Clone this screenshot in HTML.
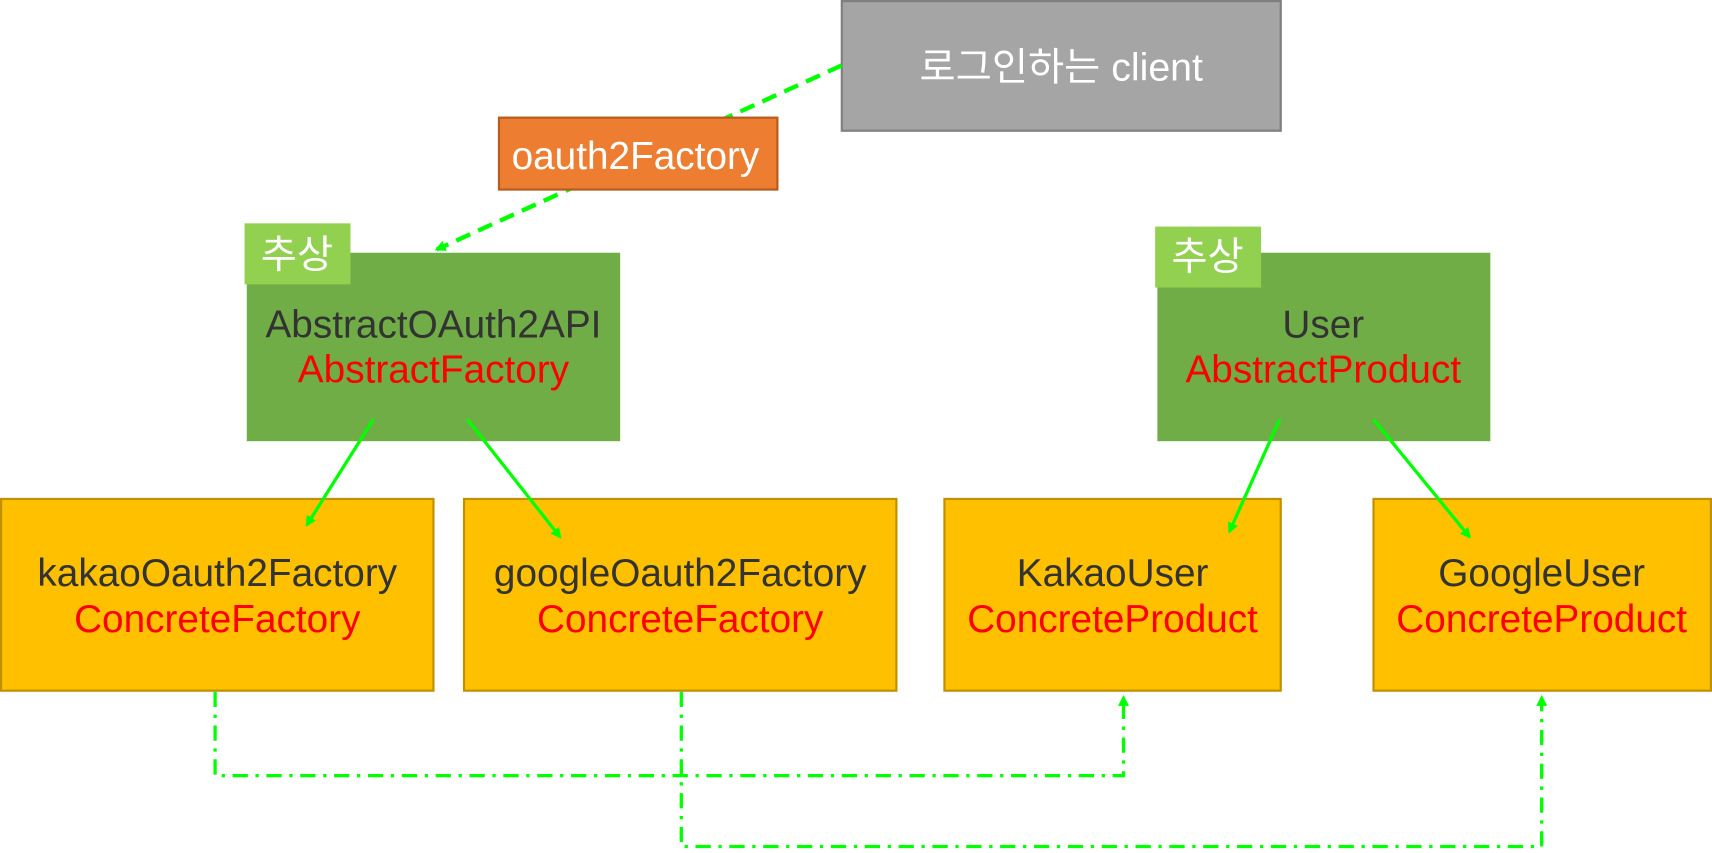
<!DOCTYPE html>
<html><head><meta charset="utf-8"><style>
html,body{margin:0;padding:0;background:#fff;}
svg{display:block;width:1712px;height:853px;}
text{font-family:"Liberation Sans","Noto Sans CJK KR",sans-serif;font-size:35.5px;text-anchor:middle;}
</style></head><body>
<svg viewBox="0 0 1568 783" preserveAspectRatio="none" xmlns="http://www.w3.org/2000/svg">
<defs>
<marker id="a" markerWidth="10" markerHeight="10" refX="8" refY="5" orient="auto" markerUnits="userSpaceOnUse"><path d="M0,0 L10,5 L0,10 z" fill="#00ff00"/></marker>
</defs>
<rect x="771" y="1" width="402" height="119" fill="#a5a5a5" stroke="#7f7f7f" stroke-width="2"/>
<text x="972" y="74" fill="#fff" style="font-size:36px">로그인하는 client</text>
<line x1="771" y1="60" x2="400" y2="229" stroke="#00ff00" stroke-width="4" stroke-dasharray="14,8" marker-end="url(#a)"/>
<rect x="457" y="108" width="255" height="66" fill="#ed7d31" stroke="#b85b1f" stroke-width="2"/>
<text x="582" y="155" fill="#fff">oauth2Factory</text>
<rect x="226" y="232" width="342" height="173" fill="#70ad47"/>
<rect x="224" y="205" width="97" height="56" fill="#92d050"/>
<text x="272" y="246" fill="#fff" style="font-size:36px">추상</text>
<text x="397" y="310" fill="#333">AbstractOAuth2API</text>
<text x="397" y="351" fill="#ff0000">AbstractFactory</text>
<rect x="1060" y="232" width="305" height="173" fill="#70ad47"/>
<rect x="1058" y="208" width="97" height="56" fill="#92d050"/>
<text x="1106" y="248" fill="#fff" style="font-size:36px">추상</text>
<text x="1212" y="310" fill="#333">User</text>
<text x="1212" y="351" fill="#ff0000">AbstractProduct</text>
<g fill="#ffc000" stroke="#bf9000" stroke-width="2">
<rect x="1" y="458" width="396" height="176"/>
<rect x="425" y="458" width="396" height="176"/>
<rect x="865" y="458" width="308" height="176"/>
<rect x="1258" y="458" width="309" height="176"/>
</g>
<text x="199" y="538" fill="#333">kakaoOauth2Factory</text>
<text x="199" y="580" fill="#ff0000">ConcreteFactory</text>
<text x="623" y="538" fill="#333">googleOauth2Factory</text>
<text x="623" y="580" fill="#ff0000">ConcreteFactory</text>
<text x="1019" y="538" fill="#333">KakaoUser</text>
<text x="1019" y="580" fill="#ff0000">ConcreteProduct</text>
<text x="1412" y="538" fill="#333">GoogleUser</text>
<text x="1412" y="580" fill="#ff0000">ConcreteProduct</text>
<g stroke="#00ff00" stroke-width="3" fill="none">
<line x1="342" y1="385" x2="281" y2="482" marker-end="url(#a)"/>
<line x1="428" y1="385" x2="513" y2="493" marker-end="url(#a)"/>
<line x1="1172" y1="385" x2="1126" y2="488" marker-end="url(#a)"/>
<line x1="1258" y1="385" x2="1346" y2="493" marker-end="url(#a)"/>
</g>
<g stroke="#00ff00" stroke-width="3" fill="none" stroke-dasharray="14,7,3,7">
<polyline points="197,635 197,712 1029,712 1029,640" marker-end="url(#a)"/>
<polyline points="624,635 624,777 1412,777 1412,640" marker-end="url(#a)"/>
</g>
</svg>
</body></html>
